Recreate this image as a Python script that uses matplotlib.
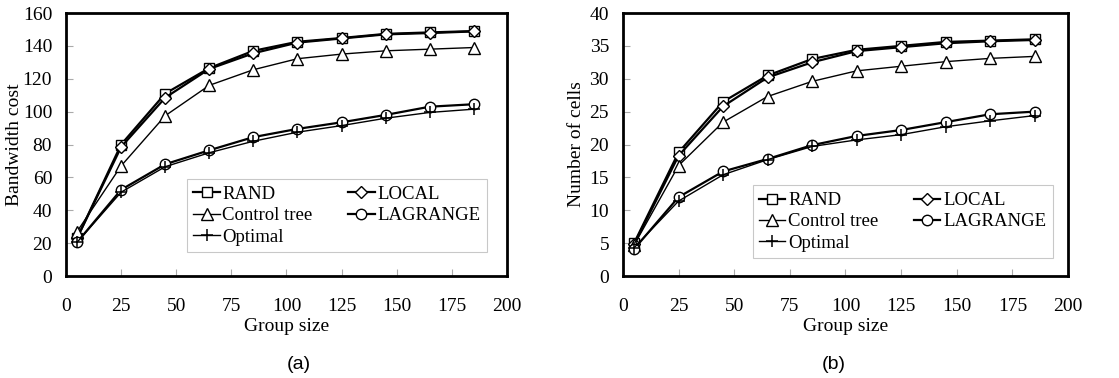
import matplotlib
matplotlib.use("Agg")
import matplotlib.pyplot as plt

plt.rcParams['font.family'] = ['Liberation Serif', 'DejaVu Serif']

group_size = [5, 25, 45, 65, 85, 105, 125, 145, 165, 185]

bw_rand = [23, 80, 111, 126.5, 137, 142.5, 144.8, 147.3, 148.2, 149]
bw_local = [23, 78.5, 108.5, 126, 135.5, 142, 144.5, 147, 147.8, 148.8]
bw_ctree = [27, 67, 97.5, 116, 125.5, 132.2, 135, 137, 138, 139]
bw_lagrange = [20.5, 52.5, 68, 76.5, 84.5, 89.5, 93.5, 98, 103, 104.5]
bw_optimal = [20.5, 51, 66.5, 75, 82, 87.5, 91.5, 96, 99.5, 101.5]

nc_rand = [5, 18.8, 26.5, 30.5, 33, 34.4, 35, 35.6, 35.8, 36]
nc_local = [4.8, 18.3, 25.8, 30.2, 32.5, 34.2, 34.8, 35.4, 35.7, 35.9]
nc_ctree = [4.7, 16.8, 23.4, 27.3, 29.6, 31.2, 31.9, 32.6, 33.1, 33.4]
nc_lagrange = [4.1, 12, 15.9, 17.8, 19.9, 21.3, 22.2, 23.4, 24.6, 25]
nc_optimal = [4.3, 11.4, 15.4, 17.7, 19.7, 20.7, 21.5, 22.7, 23.6, 24.4]

labels = ["RAND", "LOCAL", "Control tree", "LAGRANGE", "Optimal"]
ylabels = ["Bandwidth cost", "Number of cells"]
panel_labels = ["(a)", "(b)"]
yticks_list = [list(range(0, 161, 20)), list(range(0, 41, 5))]
xticks = list(range(0, 201, 25))

fig = plt.figure(figsize=(11.19, 3.78), dpi=100)
ax1 = fig.add_axes([0.059, 0.2698, 0.394, 0.6958])
ax2 = fig.add_axes([0.5567, 0.2698, 0.3977, 0.6958])

datasets = [
    [bw_rand, bw_local, bw_ctree, bw_lagrange, bw_optimal],
    [nc_rand, nc_local, nc_ctree, nc_lagrange, nc_optimal],
]
styles = [
    dict(marker='s', lw=1.6, ms=7, mew=1.0),
    dict(marker='D', lw=1.6, ms=6.5, mew=1.0),
    dict(marker='^', lw=1.0, ms=8, mew=1.0),
    dict(marker='o', lw=1.6, ms=7.5, mew=1.0),
    dict(marker='+', lw=1.0, ms=9, mew=1.1),
]
legend_pos = [(0.955, 0.091), (0.966, 0.068)]
panel_x = [0.267, 0.745]
ylabel_pad = [0, 3]

for i, ax in enumerate([ax1, ax2]):
    handles = []
    for j, ys in enumerate(datasets[i]):
        st = dict(styles[j])
        h, = ax.plot(group_size, ys, color='black', mfc='white', mec='black',
                     label=labels[j], **st)
        handles.append(h)
    ax.set_xlim(0, 200)
    ax.set_ylim(yticks_list[i][0], yticks_list[i][-1])
    ax.set_xticks(xticks)
    ax.set_yticks(yticks_list[i])
    ax.tick_params(axis='both', direction='in', length=5, color='#aaaaaa',
                   labelsize=14, width=0.8)
    ax.tick_params(axis='x', pad=16)
    ax.tick_params(axis='y', pad=10)
    for sp in ax.spines.values():
        sp.set_linewidth(2)
        sp.set_color('black')
    ax.set_xlabel("Group size", fontsize=14, labelpad=2)
    ax.set_ylabel(ylabels[i], fontsize=14, labelpad=ylabel_pad[i])
    order = [0, 2, 4, 1, 3]
    leg = ax.legend([handles[k] for k in order], [labels[k] for k in order],
                    ncol=2, loc='lower right', bbox_to_anchor=legend_pos[i],
                    fontsize=13.5, frameon=True, fancybox=False,
                    handlelength=1.4, handletextpad=0.15, columnspacing=1.9,
                    labelspacing=0.22, borderpad=0.35, borderaxespad=0)
    leg.get_frame().set_edgecolor('#bbbbbb')
    leg.get_frame().set_linewidth(0.8)
    fig.text(panel_x[i], 0.025, panel_labels[i], fontsize=14,
             family=['Liberation Sans', 'DejaVu Sans'], ha='center')

fig.savefig("out.png", dpi=100)
